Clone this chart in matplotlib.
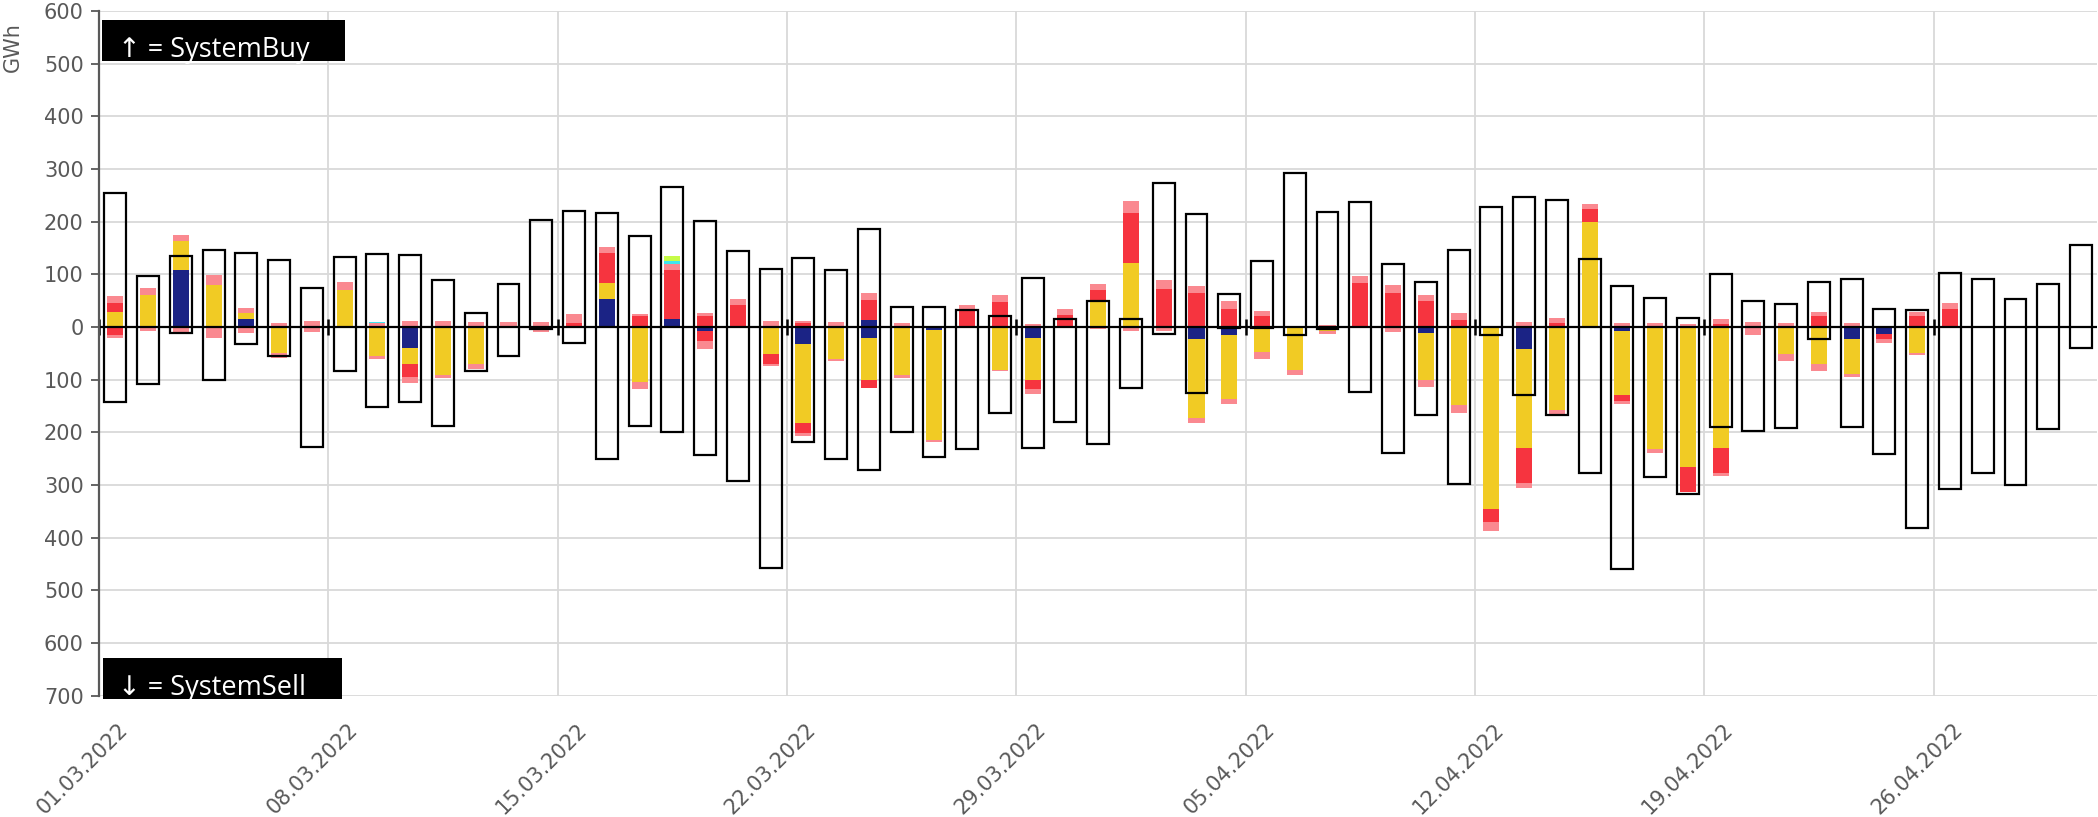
import numpy as np
import pandas as pd
import matplotlib
matplotlib.use("Agg")
import matplotlib.pyplot as plt
from matplotlib.patches import Rectangle
from matplotlib.ticker import FuncFormatter
import matplotlib.transforms as mtransforms

# ---------------- data (GWh per day, 01.03.2022 - 30.04.2022) ----------------
dates = pd.date_range("2022-03-01", "2022-04-30", freq="D")

# outline boxes: SystemBuy (up) and SystemSell (down)
box_up = [254, 96, 135, 146, 140, 128, 75, 133, 138, 136,
          90, 26, 82, 204, 220, 217, 172, 265, 201, 144,
          111, 131, 109, 186, 38, 38, 32, 21, 94, 15,
          49, 16, 274, 214, 63, 125, 293, 218, 237, 120,
          85, 146, 228, 247, 242, 129, 77, 56, 18, 101,
          50, 44, 85, 92, 34, 32, 103, 92, 53, 82, 156]
box_dn = [-142, -109, -11, -101, -32, -55, -227, -84, -152, -142,
          -187, -84, -55, -3, -30, -250, -187, -199, -243, -292,
          -457, -219, -250, -272, -200, -246, -232, -164, -230, -180,
          -223, -115, -13, -126, -1, -1, -15, -4, -123, -240,
          -168, -298, -16, -130, -168, -278, -459, -284, -317, -190,
          -197, -192, -22, -190, -242, -382, -308, -278, -300, -194, -39]

# stacked components, upward part (positive) and downward part (magnitude)
navy_up = [0, 0, 108, 0, 15, 0, 0, 0, 0, 0,
           0, 0, 0, 0, 0, 53, 0, 16, 0, 0,
           0, 0, 0, 13, 0, 0, 0, 0, 0, 0,
           0, 0, 0, 0, 0, 0, 0, 0, 0, 0,
           0, 0, 0, 0, 0, 0, 0, 0, 0, 0,
           0, 0, 0, 0, 0, 0, 0, 0, 0, 0, 0]
navy_dn = [0, 0, 0, 0, 0, 0, 0, 0, 0, 39,
           0, 0, 0, 0, 0, 0, 0, 0, 8, 0,
           0, 32, 0, 21, 0, 6, 0, 0, 20, 0,
           0, 0, 0, 22, 15, 0, 0, 3, 0, 0,
           12, 0, 0, 42, 0, 0, 8, 0, 0, 0,
           0, 0, 0, 22, 13, 0, 0, 0, 0, 0, 0]
yellow_up = [29, 61, 55, 80, 11, 0, 0, 70, 0, 0,
             0, 0, 0, 0, 0, 30, 0, 0, 0, 0,
             0, 0, 0, 0, 0, 0, 0, 0, 0, 0,
             47, 121, 0, 0, 0, 0, 0, 0, 0, 0,
             0, 0, 0, 0, 0, 200, 0, 0, 0, 0,
             0, 0, 0, 0, 0, 0, 0, 0, 0, 0, 0]
yellow_dn = [0, 0, 0, 0, 0, 50, 0, 0, 55, 31,
             92, 71, 0, 0, 0, 0, 105, 0, 0, 0,
             51, 151, 61, 80, 91, 209, 0, 82, 81, 0,
             0, 0, 0, 151, 122, 47, 82, 5, 0, 0,
             89, 149, 346, 188, 158, 0, 121, 232, 266, 229,
             0, 51, 71, 67, 0, 50, 0, 0, 0, 0, 0]
red_up = [17, 0, 0, 0, 0, 0, 0, 0, 0, 0,
          0, 0, 0, 0, 8, 58, 20, 92, 20, 42,
          0, 7, 0, 38, 0, 0, 34, 48, 0, 23,
          23, 95, 72, 64, 34, 20, 0, 0, 83, 65,
          50, 13, 0, 0, 8, 24, 0, 0, 0, 5,
          0, 0, 20, 0, 0, 20, 34, 0, 0, 0, 0]
red_dn = [15, 0, 0, 0, 0, 0, 0, 0, 0, 24,
          0, 0, 0, 0, 0, 0, 0, 0, 19, 0,
          19, 19, 0, 15, 0, 0, 0, 0, 17, 0,
          0, 0, 0, 0, 0, 0, 0, 0, 0, 0,
          0, 0, 24, 66, 0, 0, 11, 0, 47, 49,
          0, 0, 0, 0, 10, 0, 0, 0, 0, 0, 0]
pink_up = [13, 13, 12, 19, 11, 8, 11, 15, 7, 11,
           12, 10, 10, 9, 16, 10, 4, 12, 7, 11,
           12, 4, 10, 13, 8, 0, 8, 12, 6, 12,
           11, 23, 18, 13, 15, 10, 0, 4, 13, 14,
           11, 13, 0, 10, 10, 10, 7, 7, 6, 10,
           9, 7, 8, 7, 0, 9, 11, 0, 0, 0, 0]
pink_dn = [5, 7, 14, 20, 12, 8, 9, 0, 6, 13,
           5, 9, 0, 9, 0, 0, 13, 0, 15, 0,
           4, 4, 3, 0, 5, 4, 0, 2, 9, 0,
           4, 7, 8, 9, 9, 14, 10, 6, 0, 9,
           12, 15, 17, 9, 9, 0, 7, 8, 0, 5,
           15, 14, 12, 5, 7, 4, 0, 0, 0, 0, 0]
cyan_up = [0, 0, 0, 0, 0, 0, 0, 0, 3, 0,
           0, 0, 0, 0, 0, 0, 0, 5, 0, 0,
           0, 0, 0, 0, 0, 0, 0, 0, 0, 0,
           0, 0, 0, 0, 0, 0, 0, 0, 0, 0,
           0, 0, 0, 0, 0, 0, 0, 0, 0, 0,
           0, 0, 0, 0, 0, 0, 0, 0, 0, 0, 0]
green_up = [0, 0, 0, 0, 0, 0, 0, 0, 0, 0,
            0, 0, 0, 0, 0, 0, 0, 10, 0, 0,
            0, 0, 0, 0, 0, 0, 0, 0, 0, 0,
            0, 0, 0, 0, 0, 0, 0, 0, 0, 0,
            0, 0, 0, 0, 0, 0, 0, 0, 0, 0,
            0, 0, 0, 0, 0, 0, 0, 0, 0, 0, 0]

y_ticks = list(range(-700, 601, 100))
label_every = 7

# ---------------- styling ----------------
C_NAVY = "#1b2385"
C_YELLOW = "#f1cb24"
C_RED = "#f6343f"
C_PINK = "#fa8990"
C_CYAN = "#3fe6ef"
C_GREEN = "#c6fb48"
GRID = "#d9d9d9"
TXT = "#595959"

fig = plt.figure(figsize=(20.98, 8.17), dpi=100)
W, H = 2098, 817
ax = fig.add_axes([99 / W, 1 - 695.7 / H, 1998.4 / W, 684.7 / H])

n = len(dates)
x = np.arange(n) + 0.5
CW = 0.49   # coloured bar width
BW = 0.67   # outline box width

up_stack = [(navy_up, C_NAVY), (yellow_up, C_YELLOW), (red_up, C_RED),
            (pink_up, C_PINK), (cyan_up, C_CYAN), (green_up, C_GREEN)]
dn_stack = [(navy_dn, C_NAVY), (yellow_dn, C_YELLOW), (red_dn, C_RED),
            (pink_dn, C_PINK)]

base = np.zeros(n)
for vals, col in up_stack:
    v = np.asarray(vals, float)
    ax.bar(x, v, bottom=base, width=CW, color=col, linewidth=0, zorder=3)
    base += v
base = np.zeros(n)
for vals, col in dn_stack:
    v = np.asarray(vals, float)
    ax.bar(x, -v, bottom=-base, width=CW, color=col, linewidth=0, zorder=3)
    base += v

bu = np.asarray(box_up, float)
bd = np.asarray(box_dn, float)
ax.bar(x, bu - bd, bottom=bd, width=BW, fill=False, edgecolor="black",
       linewidth=1.6, zorder=5)

ax.axhline(0, color="black", linewidth=1.6, zorder=6)

week_pos = np.arange(0, n, label_every)
ax.plot(week_pos, np.zeros(len(week_pos)), linestyle="none", marker="|",
        markersize=11, markeredgewidth=1.8, color="black", zorder=7,
        clip_on=False)

ax.set_xlim(0, n)
ax.set_ylim(-700, 600)
ax.set_yticks(y_ticks)
ax.yaxis.set_major_formatter(FuncFormatter(lambda v, p: f"{abs(int(round(v)))}"))
ax.set_xticks(week_pos)
ax.set_xticklabels([dates[i].strftime("%d.%m.%Y") for i in week_pos])

ax.set_axisbelow(True)
ax.grid(True, color=GRID, linewidth=1.3)

for s in ["top", "right", "bottom"]:
    ax.spines[s].set_visible(False)
ax.spines["left"].set_color(TXT)
ax.spines["left"].set_linewidth(1.6)
ax.spines["left"].set_zorder(8)

ax.tick_params(axis="y", direction="out", length=6, width=1.3, color=TXT,
               labelcolor=TXT, labelsize=15, pad=5)
ax.tick_params(axis="x", length=0, pad=0, labelcolor=TXT, labelsize=15)
offset = mtransforms.ScaledTranslation(19 / 100, -24 / 100, fig.dpi_scale_trans)
for lab in ax.get_xticklabels():
    lab.set_rotation(45)
    lab.set_ha("right")
    lab.set_va("top")
    lab.set_rotation_mode("anchor")
    lab.set_transform(lab.get_transform() + offset)

fig.text(13 / W, 1 - 47 / H, "GWh", rotation=90, ha="center", va="center",
         color=TXT, fontsize=15)

# black annotation boxes with clipped white text
aw, ah = 1998.4, 684.7
def label_box(x0px, x1px, ytop, ybot, text, baseline):
    r = Rectangle(((x0px - 99) / aw, (695.7 - ybot) / ah),
                  (x1px - x0px) / aw, (ybot - ytop) / ah,
                  transform=ax.transAxes, facecolor="black", edgecolor="none",
                  clip_on=False, zorder=10)
    ax.add_patch(r)
    t = ax.text((118 - 99) / aw, (695.7 - baseline) / ah, text,
                transform=ax.transAxes, color="white", fontsize=19.5,
                family=["Open Sans", "DejaVu Sans"], ha="left", va="baseline",
                zorder=11)
    t.set_clip_path(r)

label_box(102, 345, 20, 61, "\u2191 = SystemBuy", 57)
label_box(103, 342, 658, 698.5, "\u2193 = SystemSell", 695)

fig.savefig("out.png", dpi=100)
